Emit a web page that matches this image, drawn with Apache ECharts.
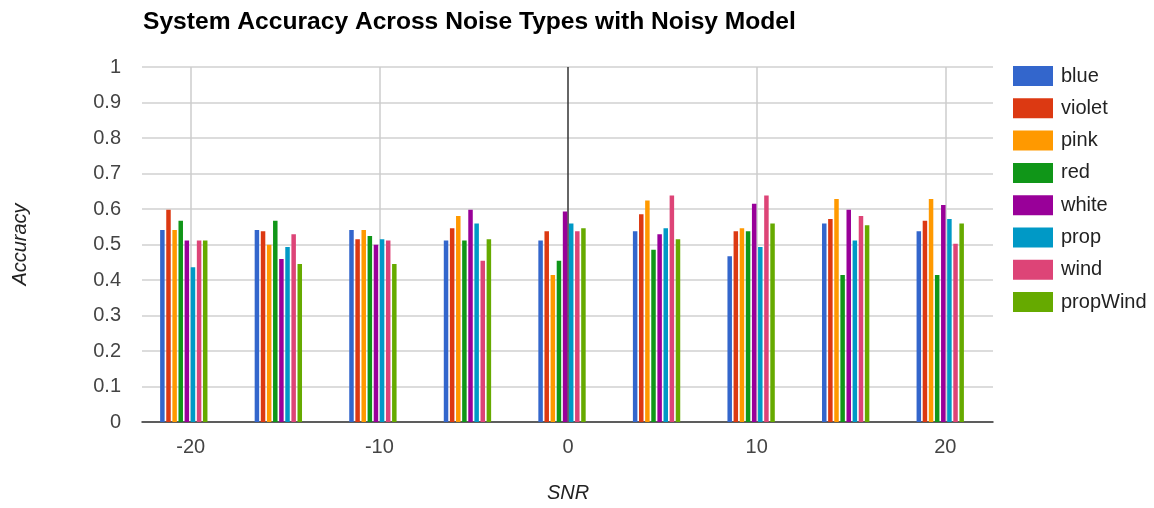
<!DOCTYPE html>
<html>
<head>
<meta charset="utf-8">
<script src="https://cdn.jsdelivr.net/npm/echarts@6/dist/echarts.min.js"></script>
<style>
html,body{margin:0;padding:0;background:#fff;}
#chart{width:1154px;height:508px;}
</style>
</head>
<body>
<div id="chart"></div>
<script>
const snr = [-20, -15, -10, -5, 0, 5, 10, 15, 20];
const seriesNames = ['blue', 'violet', 'pink', 'red', 'white', 'prop', 'wind', 'propWind'];
const colors = ['#3366cc', '#dc3912', '#ff9900', '#109618', '#990099', '#0099c6', '#dd4477', '#66aa00'];
const blue     = [0.541, 0.541, 0.541, 0.511, 0.511, 0.537, 0.467, 0.559, 0.537];
const violet   = [0.598, 0.537, 0.515, 0.546, 0.537, 0.585, 0.537, 0.572, 0.567];
const pink     = [0.541, 0.499, 0.541, 0.580, 0.414, 0.624, 0.546, 0.628, 0.628];
const red      = [0.567, 0.567, 0.524, 0.511, 0.454, 0.485, 0.537, 0.414, 0.414];
const white    = [0.511, 0.459, 0.499, 0.598, 0.593, 0.529, 0.615, 0.598, 0.611];
const prop     = [0.436, 0.493, 0.515, 0.559, 0.559, 0.546, 0.493, 0.511, 0.572];
const wind     = [0.511, 0.529, 0.511, 0.454, 0.537, 0.638, 0.638, 0.580, 0.502];
const propWind = [0.511, 0.445, 0.445, 0.515, 0.546, 0.515, 0.559, 0.554, 0.559];
const allValues = [blue, violet, pink, red, white, prop, wind, propWind];
const xTicks = [-20, -10, 0, 10, 20];
const yTicks = [0, 0.1, 0.2, 0.3, 0.4, 0.5, 0.6, 0.7, 0.8, 0.9, 1];

const FONT = '"Liberation Sans", Arial, sans-serif';

const series = seriesNames.map((name, i) => ({
  name: name,
  type: 'bar',
  xAxisIndex: 0,
  yAxisIndex: 0,
  barWidth: 4.5,
  barGap: '36%',
  itemStyle: { color: colors[i] },
  data: snr.map((x, j) => [x, allValues[i][j]])
}));

const chart = echarts.init(document.getElementById('chart'), null, { renderer: 'canvas' });
chart.setOption({
  animation: false,
  color: colors,
  title: {
    text: 'System Accuracy Across Noise Types with Noisy Model',
    left: 138,
    top: 5,
    textStyle: { fontFamily: FONT, fontWeight: 'bold', fontSize: 24.6, color: '#000' }
  },
  legend: {
    orient: 'vertical',
    left: 1008,
    top: 61,
    itemWidth: 40,
    itemHeight: 20,
    itemGap: 12.3,
    icon: 'rect',
    textStyle: { fontFamily: FONT, fontSize: 20, color: '#222', padding: [0, 0, 0, 3] },
    data: seriesNames
  },
  grid: [
    { left: 142, right: 161, top: 67, bottom: 86, containLabel: false },
    { left: 190.7, right: 208.7, top: 67, bottom: 86, containLabel: false }
  ],
  xAxis: [
    {
      type: 'value', gridIndex: 0, min: -22.21, max: 22.79,
      axisLabel: { show: false }, axisTick: { show: false },
      splitLine: { show: false },
      axisLine: { show: true, lineStyle: { color: '#333', width: 1.5 } }
    },
    {
      type: 'value', gridIndex: 1, min: -20, max: 20, interval: 10,
      axisLine: { show: false }, axisTick: { show: false },
      axisLabel: { color: '#444', fontSize: 20, fontFamily: FONT, margin: 16 },
      splitLine: { show: true, lineStyle: { color: ['#cccccc', '#cccccc', '#333333', '#cccccc', '#cccccc'], width: 1.5 } },
      name: 'SNR', nameLocation: 'middle', nameGap: 62,
      nameTextStyle: { fontFamily: FONT, fontSize: 20, fontStyle: 'italic', color: '#222' }
    }
  ],
  yAxis: [
    {
      type: 'value', gridIndex: 0, min: 0, max: 1, interval: 0.1,
      axisLine: { show: false }, axisTick: { show: false },
      axisLabel: { color: '#444', fontSize: 20, fontFamily: FONT, margin: 21 },
      splitLine: { show: true, lineStyle: { color: '#d0d0d0', width: 1.5 } },
      name: 'Accuracy', nameLocation: 'middle', nameGap: 112, nameRotate: 90,
      nameTextStyle: { fontFamily: FONT, fontSize: 20, fontStyle: 'italic', color: '#222' }
    },
    {
      type: 'value', gridIndex: 1, min: 0, max: 1, show: false,
      splitLine: { show: false }
    }
  ],
  series: series
});
</script>
</body>
</html>
